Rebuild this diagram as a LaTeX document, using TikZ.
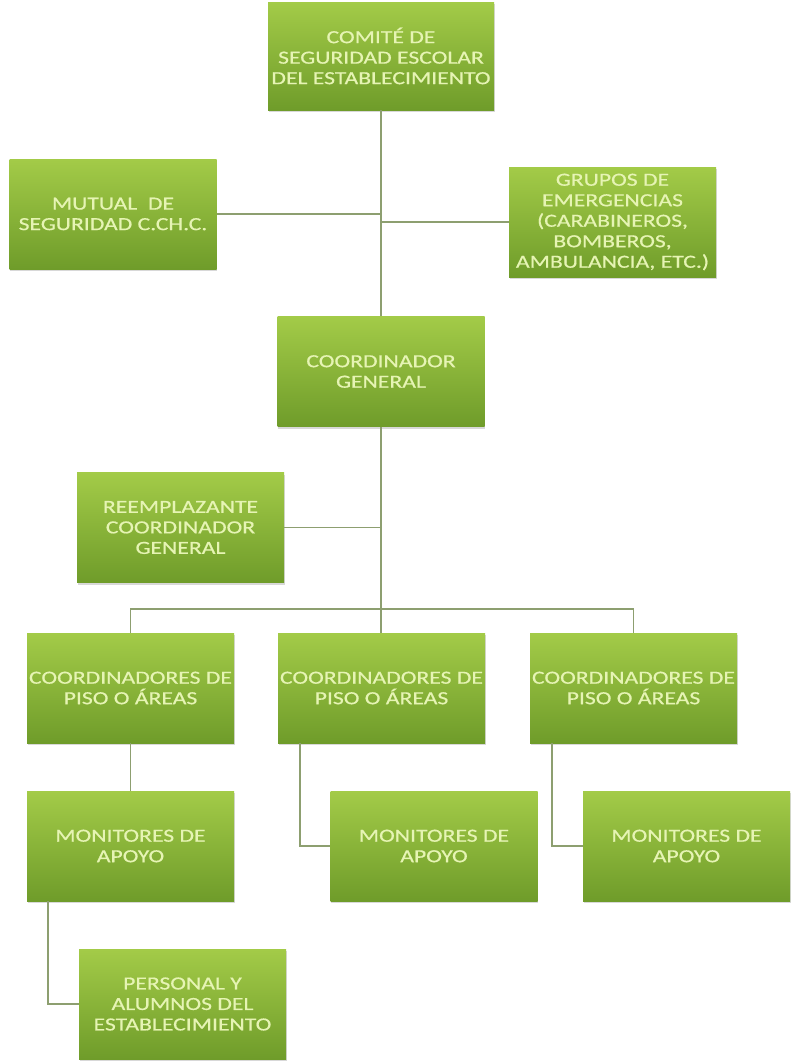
\documentclass[tikz,border=0pt]{standalone}
\usepackage{fontspec}
\newfontfamily\boxfont[FakeStretch=1.28,FakeBold=0.6]{Carlito}
\usetikzlibrary{shadows}
\definecolor{boxtop}{HTML}{A3CB48}
\definecolor{boxbot}{HTML}{6F9C2A}
\definecolor{boxtext}{HTML}{E6F4B4}
\definecolor{linkcol}{HTML}{8D9F70}
\begin{document}
\begin{tikzpicture}[x=1pt,y=-1pt,
  orgbox/.style={rectangle, inner sep=0pt, minimum width=207pt, minimum height=110pt,
    top color=boxtop, bottom color=boxbot, draw=none,
    drop shadow={shadow xshift=0.5pt, shadow yshift=-2pt, opacity=0.3},
    align=center, text=boxtext,
    font=\boxfont\fontsize{18.5}{20.5}\selectfont},
  link/.style={draw=linkcol, line width=1.6pt}]
\useasboundingbox (0,0) rectangle (790,1063);
\fill[white] (0,0) rectangle (790,1063);

\node[orgbox, minimum width=226pt, minimum height=108pt] (comite) at (381,56)
  {COMITÉ DE\\SEGURIDAD ESCOLAR\\DEL ESTABLECIMIENTO};
\node[orgbox] (mutual) at (113,214) {MUTUAL~~DE\\SEGURIDAD C.CH.C.};
\node[orgbox] (grupos) at (612.5,222)
  {GRUPOS DE\\EMERGENCIAS\\(CARABINEROS,\\BOMBEROS,\\AMBULANCIA, ETC.)};
\node[orgbox] (coordgen) at (381,371.5) {COORDINADOR\\GENERAL};
\node[orgbox] (reemp) at (180.5,527.5) {REEMPLAZANTE\\COORDINADOR\\GENERAL};
\node[orgbox] (cp1) at (130.5,688) {COORDINADORES DE\\PISO O ÁREAS};
\node[orgbox] (cp2) at (381.5,688) {COORDINADORES DE\\PISO O ÁREAS};
\node[orgbox] (cp3) at (633.5,688) {COORDINADORES DE\\PISO O ÁREAS};
\node[orgbox] (m1) at (130.5,846) {MONITORES DE\\APOYO};
\node[orgbox] (m2) at (434,846) {MONITORES DE\\APOYO};
\node[orgbox] (m3) at (686.5,846) {MONITORES DE\\APOYO};
\node[orgbox] (pers) at (182.5,1004) {PERSONAL Y\\ALUMNOS DEL\\ESTABLECIMIENTO};

\coordinate (bus) at (381,609);

\draw[link] (comite.south) -- (coordgen.north);
\draw[link] (mutual.east) -- (mutual.east -| comite.south);
\draw[link] (grupos.west) -- (grupos.west -| comite.south);
\draw[link] (reemp.east) -- (reemp.east -| coordgen.south);
\draw[link] (coordgen.south) -- (coordgen.south |- cp2.north);
\draw[link] (cp1.north) |- (bus) -| (cp3.north);
\draw[link] (cp1.south) -- (m1.north);
\draw[link] ([xshift=22pt]cp2.south west) |- (m2.west);
\draw[link] ([xshift=22pt]cp3.south west) |- (m3.west);
\draw[link] ([xshift=21pt]m1.south west) |- (pers.west);
\end{tikzpicture}
\end{document}
